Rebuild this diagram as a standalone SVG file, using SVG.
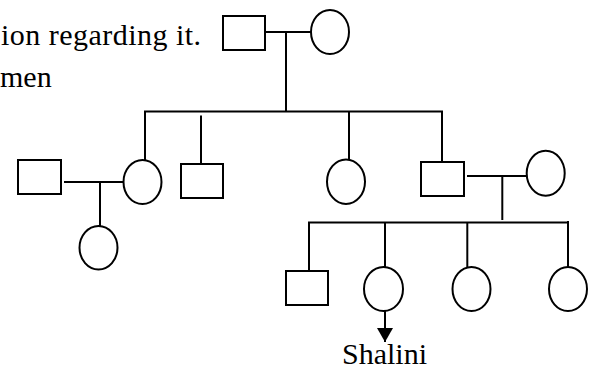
<svg xmlns="http://www.w3.org/2000/svg" width="594" height="370" viewBox="0 0 594 370">
<style>
.n{fill:#fff;stroke:#000;stroke-width:2}
.c line,.c path{stroke:#000;stroke-width:2;fill:none}
</style>
<defs>
<marker id="ah" viewBox="0 0 14 16" refX="14" refY="8" markerWidth="14" markerHeight="16" markerUnits="userSpaceOnUse" orient="auto">
<path d="M0,0 L14,8 L0,16 z" fill="#000"/>
</marker>
</defs>
<rect width="594" height="370" fill="#fff"/>
<g font-family="'Liberation Serif', 'DejaVu Serif', serif" font-size="30" fill="#000">
<text x="1" y="45" textLength="200" lengthAdjust="spacing">ion regarding it.</text>
<text x="0" y="87">men</text>
</g>
<g class="c" id="connectors">
<line x1="265" y1="32" x2="311" y2="32"/>
<line x1="286" y1="32" x2="286" y2="111.5"/>
<line x1="144" y1="111.5" x2="443" y2="111.5"/>
<line x1="145" y1="111.5" x2="145" y2="160.5"/>
<line x1="201" y1="115.5" x2="201" y2="164"/>
<line x1="349" y1="111.5" x2="349" y2="159.5"/>
<line x1="442" y1="111.5" x2="442" y2="162"/>
<line x1="64" y1="182" x2="123.5" y2="182"/>
<line x1="100" y1="182" x2="100" y2="226"/>
<line x1="467" y1="176" x2="527" y2="176"/>
<line x1="502.3" y1="176" x2="502.3" y2="220"/>
<line x1="308" y1="222.5" x2="567" y2="222.5"/>
<line x1="309" y1="222.5" x2="309" y2="271"/>
<line x1="385" y1="222.5" x2="385" y2="267"/>
<line x1="467.3" y1="222.5" x2="467.3" y2="267"/>
<line x1="568" y1="221" x2="568" y2="267"/>
<line x1="385" y1="311" x2="385" y2="342" marker-end="url(#ah)"/>
</g>
<g id="gf"><rect class="n" x="223" y="16" width="42" height="34"/></g>
<g id="gm"><ellipse class="n" cx="330" cy="32" rx="19" ry="22"/></g>
<g id="h1"><rect class="n" x="18" y="160" width="43" height="34"/></g>
<g id="d1"><ellipse class="n" cx="142.5" cy="182" rx="19" ry="22"/></g>
<g id="gc1"><ellipse class="n" cx="98.5" cy="247.7" rx="19" ry="21.7"/></g>
<g id="s1"><rect class="n" x="181" y="164" width="42" height="34"/></g>
<g id="d2"><ellipse class="n" cx="346" cy="181.7" rx="19" ry="22.3"/></g>
<g id="s2"><rect class="n" x="421" y="162" width="43" height="34"/></g>
<g id="w2"><ellipse class="n" cx="545.7" cy="173.2" rx="19" ry="22.5"/></g>
<g id="c1"><rect class="n" x="286" y="271" width="42" height="34"/></g>
<g id="shalini"><ellipse class="n" cx="383.5" cy="289" rx="19.5" ry="22"/><text x="384.5" y="364" text-anchor="middle" font-family="'Liberation Serif', 'DejaVu Serif', serif" font-size="30" fill="#000">Shalini</text></g>
<g id="c3"><ellipse class="n" cx="471.5" cy="289" rx="19" ry="22"/></g>
<g id="c4"><ellipse class="n" cx="568" cy="289" rx="19" ry="22"/></g>
</svg>
